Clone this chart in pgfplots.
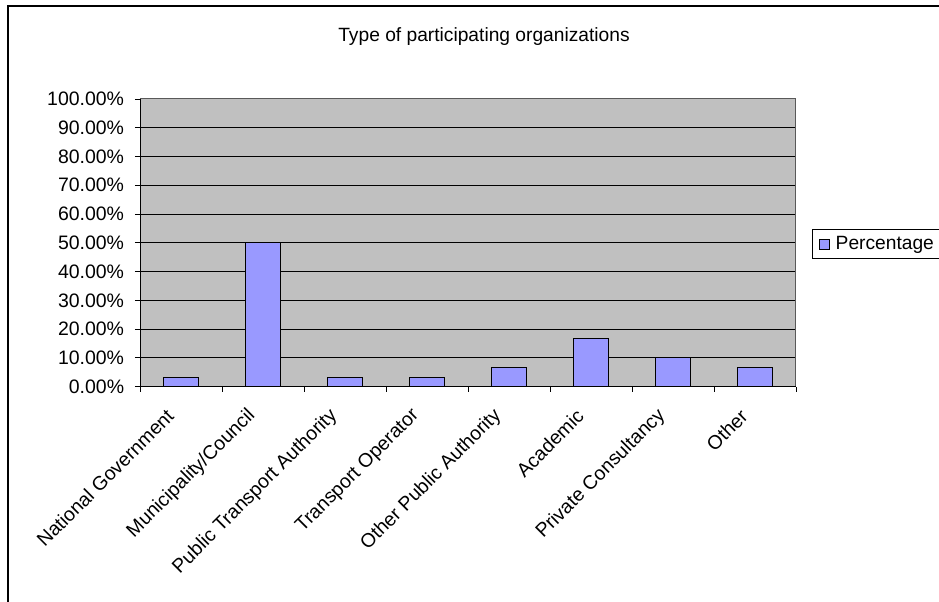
\documentclass[border=0pt]{standalone}
\usepackage{fontspec}
\setmainfont{Liberation Sans}
\usepackage{pgfplots}
\pgfplotsset{compat=1.18}
\definecolor{barfill}{HTML}{9999FF}
\definecolor{plotbg}{HTML}{C0C0C0}
\begin{document}
\begin{tikzpicture}
\fontsize{14.4pt}{17pt}\selectfont
% outer chart frame
\draw[line width=1.1pt, black] (6pt,-451.5pt) -- (6pt,-4.5pt) -- (704.25pt,-4.5pt);
\node[anchor=base, font=\fontsize{14.4pt}{17pt}\selectfont] at (363pt,-31.3pt) {Type of participating organizations};
\begin{axis}[
  at={(105pt,-290pt)}, anchor=south west,
  scale only axis, width=492pt, height=215.8pt,
  ybar, bar width=0.415,
  xmin=-0.5, xmax=7.5, ymin=0, ymax=100,
  axis background/.style={fill=plotbg},
  axis line style={draw=gray!70!black, line width=0.75pt},
  tick align=outside, major tick length=3.75pt,
  xtick pos=bottom, ytick pos=left,
  tick style={black, line width=0.6pt},
  xtick={-0.5,0.5,...,7.5}, xticklabels={},
  extra x ticks={0,1,2,3,4,5,6,7},
  extra x tick labels={National Government, Municipality/Council, Public Transport Authority, Transport Operator, Other Public Authority, Academic, Private Consultancy, Other},
  extra x tick style={major tick length=0pt, grid=none,
    xticklabel style={xshift=-8pt, yshift=-19.5pt, rotate=45, anchor=east, inner sep=0pt}},
  ytick={0,10,...,100},
  yticklabels={0.00\%,10.00\%,20.00\%,30.00\%,40.00\%,50.00\%,60.00\%,70.00\%,80.00\%,90.00\%,100.00\%},
  ymajorgrids, major grid style={black, line width=0.7pt},
  ticklabel style={font=\fontsize{14.6pt}{17pt}\selectfont},
  yticklabel style={inner sep=2pt, xshift=-6pt},
  legend style={draw=black, fill=white, at={(rel axis cs:1.0244,0.496)}, anchor=west,
    font=\fontsize{14.4pt}{17pt}\selectfont, inner xsep=4.5pt, inner ysep=3pt, line width=0.6pt},
  legend image code/.code={\draw[#1, line width=0.6pt] (1pt,-3.75pt) rectangle (8.5pt,3.75pt); \path[draw=none, fill=none] (0pt,0pt) -- (11pt,0pt);},
  clip=false,
]
\addplot[fill=barfill, draw=black, line width=0.75pt] coordinates {
  (0,3.33) (1,50) (2,3.33) (3,3.33) (4,6.67) (5,16.67) (6,10) (7,6.67)
};
\addlegendentry{Percentage}
\draw[black, line width=0.75pt] (rel axis cs:0,0) -- (rel axis cs:0,1);
\draw[black, line width=0.75pt] (rel axis cs:0,0) -- (rel axis cs:1,0);
\end{axis}
\pgfresetboundingbox
\path[use as bounding box] (0pt,0pt) rectangle (704.25pt,-451.5pt);
\end{tikzpicture}
\end{document}
